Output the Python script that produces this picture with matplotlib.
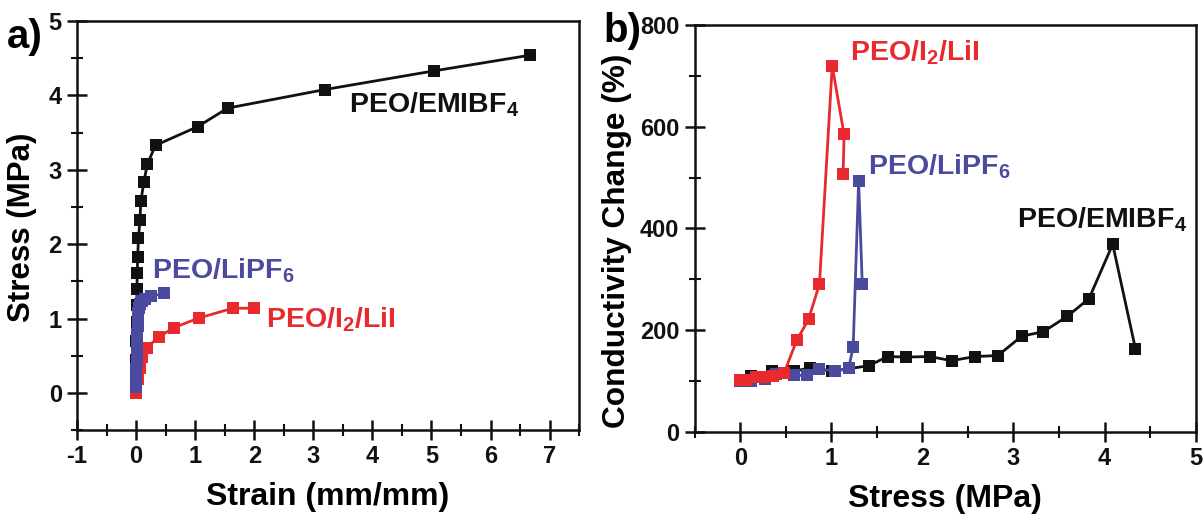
import matplotlib
matplotlib.use("Agg")
import matplotlib.pyplot as plt
from matplotlib.ticker import MultipleLocator

plt.rcParams["font.family"] = ["Liberation Sans", "DejaVu Sans"]
plt.rcParams["font.weight"] = "bold"
plt.rcParams["axes.unicode_minus"] = False
plt.rcParams["mathtext.fontset"] = "custom"
plt.rcParams["mathtext.rm"] = "Liberation Sans:bold"
plt.rcParams["mathtext.bf"] = "Liberation Sans:bold"
plt.rcParams["mathtext.it"] = "Liberation Sans:bold"
plt.rcParams["mathtext.default"] = "rm"

RED = "#e8292d"
BLUE = "#4a4a9e"
BLACK = "#111111"

# ---- (a) stress-strain curves ----
emi_strain = [0.0, 0.002, 0.004, 0.006, 0.008, 0.01, 0.013, 0.02, 0.026, 0.04, 0.065,
              0.08, 0.13, 0.19, 0.33, 1.04, 1.55, 3.20, 5.04, 6.66]
emi_stress = [0.05, 0.25, 0.45, 0.7, 0.95, 1.18, 1.40, 1.62, 1.83, 2.08, 2.33,
              2.58, 2.83, 3.08, 3.33, 3.58, 3.83, 4.08, 4.33, 4.54]

lipf_strain = [0.0, 0.003, 0.006, 0.009, 0.012, 0.015, 0.02, 0.025, 0.03, 0.04,
               0.05, 0.07, 0.10, 0.15, 0.25, 0.47]
lipf_stress = [0.08, 0.2, 0.32, 0.44, 0.56, 0.68, 0.8, 0.9, 1.0, 1.08,
               1.14, 1.2, 1.24, 1.27, 1.30, 1.34]

lii_strain = [0.0, 0.04, 0.065, 0.10, 0.18, 0.38, 0.64, 1.07, 1.64, 1.99]
lii_stress = [0.0, 0.19, 0.34, 0.48, 0.61, 0.75, 0.88, 1.01, 1.14, 1.14]

# ---- (b) conductivity change vs stress ----
emi_b_stress = [0.0, 0.12, 0.35, 0.59, 0.77, 1.01, 1.41, 1.62, 1.82, 2.08, 2.32,
                2.58, 2.83, 3.09, 3.33, 3.59, 3.83, 4.09, 4.34]
emi_b_cond = [100, 110, 120, 119, 126, 119, 130, 148, 147, 148, 140,
              148, 150, 188, 197, 227, 262, 369, 163]

lipf_b_stress = [0.0, 0.12, 0.27, 0.39, 0.59, 0.73, 0.87, 1.04, 1.19, 1.24, 1.30, 1.34]
lipf_b_cond = [100, 99, 104, 113, 111, 111, 124, 119, 125, 166, 493, 290]

lii_b_stress = [0.0, 0.06, 0.17, 0.26, 0.36, 0.48, 0.62, 0.75, 0.87, 1.01, 1.14, 1.13]
lii_b_cond = [101, 101, 107, 108, 110, 115, 180, 221, 291, 720, 585, 508]

fig = plt.figure(figsize=(12.04, 5.14), dpi=100)
ax1 = fig.add_axes([0.064, 0.163, 0.417, 0.796])
ax2 = fig.add_axes([0.577, 0.160, 0.416, 0.791])

mk = dict(marker="s", markersize=8, linewidth=2.0, markeredgewidth=0)

ax1.plot(emi_strain, emi_stress, color=BLACK, **mk)
ax1.plot(lii_strain, lii_stress, color=RED, **mk)
ax1.plot(lipf_strain, lipf_stress, color=BLUE, **mk)

ax2.plot(emi_b_stress, emi_b_cond, color=BLACK, **mk)
ax2.plot(lipf_b_stress, lipf_b_cond, color=BLUE, **mk)
ax2.plot(lii_b_stress, lii_b_cond, color=RED, **mk)

ax1.set_xlim(-1, 7.5)
ax1.set_ylim(-0.5, 5)
ax1.xaxis.set_major_locator(MultipleLocator(1))
ax1.xaxis.set_minor_locator(MultipleLocator(0.5))
ax1.yaxis.set_major_locator(MultipleLocator(1))
ax1.yaxis.set_minor_locator(MultipleLocator(0.5))

ax2.set_xlim(-0.5, 5)
ax2.set_ylim(0, 800)
ax2.xaxis.set_major_locator(MultipleLocator(1))
ax2.xaxis.set_minor_locator(MultipleLocator(0.5))
ax2.yaxis.set_major_locator(MultipleLocator(200))
ax2.yaxis.set_minor_locator(MultipleLocator(100))

for ax in (ax1, ax2):
    for s in ax.spines.values():
        s.set_linewidth(1.8)
        s.set_color(BLACK)
    ax.tick_params(which="major", direction="inout", length=14, width=1.8,
                   labelsize=17, pad=4, colors=BLACK)
    ax.tick_params(which="minor", direction="inout", length=9, width=1.5, colors=BLACK)
    for lab in ax.get_xticklabels() + ax.get_yticklabels():
        lab.set_fontweight("bold")

ax1.set_xlabel("Strain (mm/mm)", fontsize=23, fontweight="bold", labelpad=10)
ax1.set_ylabel("Stress (MPa)", fontsize=22.5, fontweight="bold")
ax1.yaxis.set_label_coords(-0.080, 0.496)
ax2.set_xlabel("Stress (MPa)", fontsize=23, fontweight="bold", labelpad=10)
ax2.set_ylabel("Conductivity Change (%)", fontsize=22.8, fontweight="bold")
ax2.yaxis.set_label_coords(-0.126, 0.469)

tk = dict(fontsize=20.5, fontweight="bold", ha="left", va="center")
ax1.text(3.6, 3.87, r"PEO/EMIBF$_{4}$", color=BLACK, **tk)
ax1.text(0.27, 1.65, r"PEO/LiPF$_{6}$", color=BLUE, **tk)
ax1.text(2.2, 0.98, r"PEO/I$_{2}$/LiI", color=RED, **tk)

ax2.text(1.21, 745, r"PEO/I$_{2}$/LiI", color=RED, **tk)
ax2.text(1.40, 522, r"PEO/LiPF$_{6}$", color=BLUE, **tk)
ax2.text(3.04, 418, r"PEO/EMIBF$_{4}$", color=BLACK, **tk)

fig.text(0.006, 0.928, "a)", fontsize=29, fontweight="bold", va="center", ha="left")
fig.text(0.501, 0.94, "b)", fontsize=29, fontweight="bold", va="center", ha="left")

fig.savefig("out.png", dpi=100)
